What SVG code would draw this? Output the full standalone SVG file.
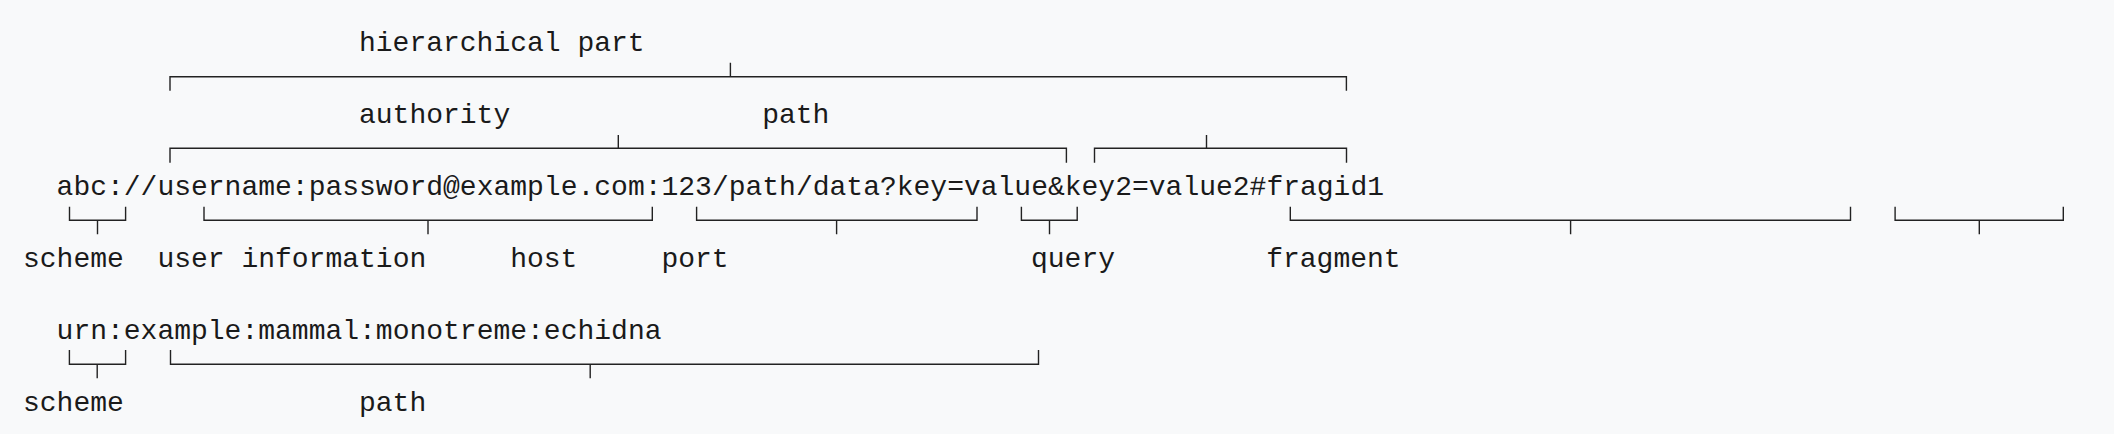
<svg xmlns="http://www.w3.org/2000/svg" width="2114" height="434" viewBox="0 0 2114 434">
<style>
text{font-family:"Liberation Mono","DejaVu Sans Mono",monospace;font-size:28px;fill:#1a1a1a}
.br{fill:none;stroke:#222;stroke-width:1.4}
</style>
<rect width="2114" height="434" fill="#f8f9fa"/>
<g id="labels-top">
<g id="hierarchical-part"><text x="359" y="51">hierarchical part</text></g>
<g id="authority"><text x="359" y="122.5">authority</text></g>
<g id="path-top"><text x="762.2" y="122.5">path</text></g>
</g>
<g id="uri1"><text x="56.6" y="194.5">abc://username:password@example.com:123/path/data?key=value&amp;key2=value2#fragid1</text></g>
<g id="labels-uri1">
<g id="scheme1"><text x="23" y="266.5">scheme</text></g>
<g id="userinfo"><text x="157.4" y="266.5">user information</text></g>
<g id="host"><text x="510.2" y="266.5">host</text></g>
<g id="port"><text x="661.4" y="266.5">port</text></g>
<g id="query"><text x="1031" y="266.5">query</text></g>
<g id="fragment"><text x="1266.2" y="266.5">fragment</text></g>
</g>
<g id="uri2"><text x="56.6" y="338.5">urn:example:mammal:monotreme:echidna</text></g>
<g id="labels-uri2">
<g id="scheme2"><text x="23" y="410.5">scheme</text></g>
<g id="path2"><text x="359" y="410.5">path</text></g>
</g>
<g id="connectors" class="br">
<path d="M170,90.7V76.7H1346.4V90.7M730.4,76.7V62.7"/>
<path d="M170,162.7V148.3H1066.4V162.7M618.3,148.3V135"/>
<path d="M1094.5,162.7V148.3H1346.5V162.7M1206.5,148.3V135"/>
<path d="M69.5,206.7V220.3H125.6V206.7M97.5,220.3V234.3"/>
<path d="M204,206.7V220.3H652.3V206.7M428,220.3V234.3"/>
<path d="M696.6,206.7V220.3H977V206.7M836.6,220.3V234.3"/>
<path d="M1021.4,206.7V220.3H1077.2V206.7M1049.5,220.3V234.3"/>
<path d="M1290.3,206.7V220.3H1850.5V206.7M1570.6,220.3V234.3"/>
<path d="M1895.1,206.7V220.3H2063.3V206.7M1979.3,220.3V234.3"/>
<path d="M69.4,350V364.3H125.6V350M97.2,364.3V378.3"/>
<path d="M170.5,350V364.3H1038.5V350M590.2,364.3V378.3"/>
</g>
</svg>
